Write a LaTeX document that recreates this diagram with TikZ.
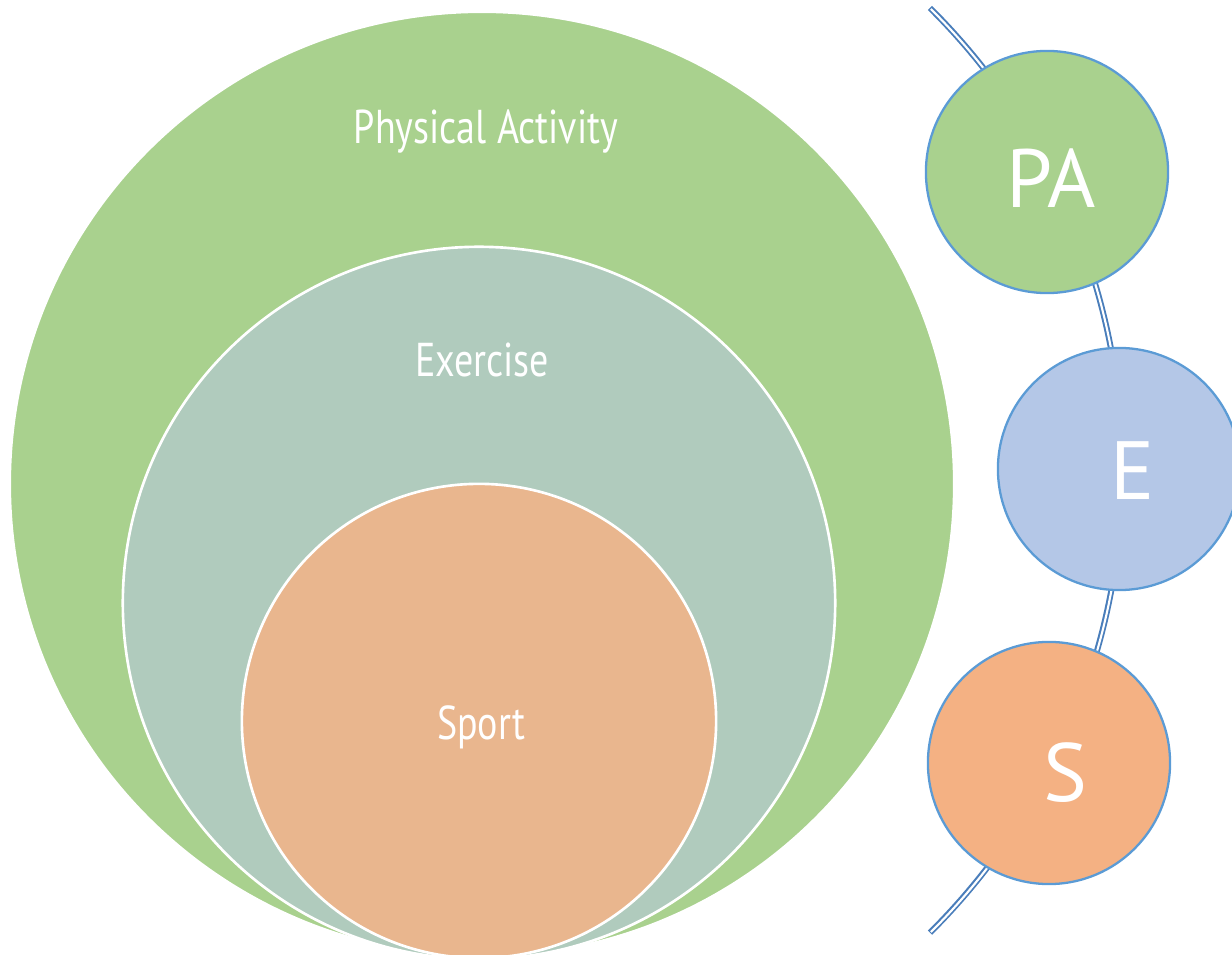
\documentclass[tikz,border=0pt]{standalone}
\usepackage{fontspec}
\setmainfont{PT Sans}
\newfontfamily\tagfont[FakeStretch=0.8]{PT Sans}
\definecolor{pagreen}{HTML}{A9D18E}
\definecolor{exgrey}{HTML}{B0CBBD}
\definecolor{sptan}{HTML}{E9B68E}
\definecolor{eblue}{HTML}{B4C7E7}
\definecolor{sorange}{HTML}{F4B183}
\definecolor{rimblue}{HTML}{5B9BD5}
\definecolor{arcblue}{HTML}{4A7EBB}
\tikzset{
  ring/.style={circle, draw=white, line width=0.75pt, inner sep=0pt},
  badge/.style={circle, draw=rimblue, line width=0.65pt, inner sep=0pt, minimum size=2.42cm},
  tag/.style={text=white, font=\tagfont\fontsize{13.5}{15}\selectfont, anchor=base},
  letter/.style={text=white, font=\fontsize{23.5}{26}\selectfont, anchor=base}
}
\begin{document}
\begin{tikzpicture}[x=0.01cm, y=-0.01cm]
  \clip (0,0) rectangle (1232,955);
  % the bow behind the badges
  \draw[arcblue, line width=1.7pt] (930,8) arc[start angle=-45.2, end angle=45.2, radius=651.6];
  \draw[white, line width=0.6pt] (930,8) ++(0.9,1) arc[start angle=-45.1, end angle=45.1, radius=651.6];
  % nested circles
  \node[ring, fill=pagreen, minimum size=9.44cm] (pa) at (482,484) {};
  \node[ring, fill=exgrey, minimum size=7.12cm] (ex) at (479,603) {};
  \node[ring, fill=sptan, minimum size=4.74cm] (sp) at (479,721) {};
  \node[tag] (patext) at (486,144) {Physical Activity};
  \node[tag] (extext) at (482,377) {Exercise};
  \node[tag] (sptext) at (481,740) {Sport};
  % badges on the right
  \node[badge, fill=pagreen] (pab) at (1047,172) {};
  \node[badge, fill=eblue] (eb) at (1119,469) {};
  \node[badge, fill=sorange] (sb) at (1049,763) {};
  \node[letter] (paletter) at (1051,208) {PA};
  \node[letter] (eletter) at (1133,500) {E};
  \node[letter] (sletter) at (1065,802) {S};
\end{tikzpicture}
\end{document}
